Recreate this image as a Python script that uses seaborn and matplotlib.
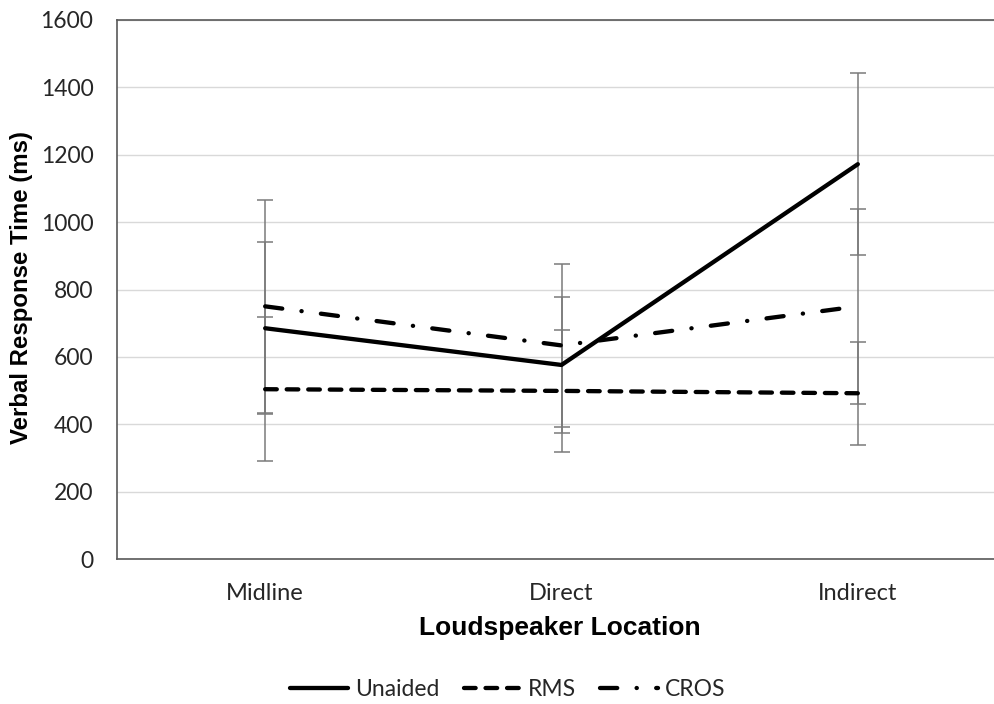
import matplotlib
matplotlib.use("Agg")
import matplotlib.pyplot as plt
import seaborn as sns
import pandas as pd

# Mean verbal response time (ms) and standard deviation per listening condition
categories = ["Midline", "Direct", "Indirect"]
series_names = ["Unaided", "RMS", "CROS"]
unaided_mean = [685, 576, 1172]
unaided_sd = [256, 203, 270]
rms_mean = [504, 499, 492]
rms_sd = [213, 180, 153]
cros_mean = [750, 634, 750]
cros_sd = [316, 241, 290]
y_ticks = [0, 200, 400, 600, 800, 1000, 1200, 1400, 1600]

sns.set_theme(style="white")
plt.rcParams["font.family"] = ["Lato", "DejaVu Sans"]

rows = []
for name, means, sds in zip(series_names,
                            [unaided_mean, rms_mean, cros_mean],
                            [unaided_sd, rms_sd, cros_sd]):
    for pos, (cat, m, s) in enumerate(zip(categories, means, sds)):
        rows.append({"Location": cat, "pos": pos, "Condition": name, "ms": m, "sd": s})
df = pd.DataFrame(rows)

W, H = 995, 704
fig = plt.figure(figsize=(W / 100, H / 100), dpi=100)
left, right, top, bottom = 117, 1006, 20, 559
ax = fig.add_axes([left / W, (H - bottom) / H, (right - left) / W, (bottom - top) / H])

LW = 3.1
line_dashes = {
    "Unaided": "",
    "RMS": (2.7, 2.3),
    "CROS": (4.0, 4.5, 0.05, 4.5),
}
sns.lineplot(
    data=df, x="pos", y="ms", hue="Condition", style="Condition",
    hue_order=series_names, style_order=series_names,
    palette={n: "black" for n in series_names},
    dashes=line_dashes, linewidth=LW, legend=False, ax=ax,
    dash_capstyle="round", solid_capstyle="round", zorder=3,
)
line_handles = list(ax.lines[:3])

# Standard deviation whiskers
ax.errorbar(df["pos"], df["ms"], yerr=df["sd"], fmt="none",
            ecolor="#7a7a7a", elinewidth=1.1, capsize=5.5, capthick=1.1, zorder=2)

ax.set_xlim(-0.5, 2.5)
ax.set_ylim(0, 1600)
ax.set_xticks(range(len(categories)))
ax.set_xticklabels(categories)
ax.set_yticks(y_ticks)
ax.set_yticklabels([str(v) for v in y_ticks])
ax.tick_params(axis="both", length=0, colors="#262626")
ax.tick_params(axis="y", pad=17, labelsize=16.5)
ax.tick_params(axis="x", pad=17, labelsize=17)

ax.yaxis.grid(True, color="#d9d9d9", linewidth=1.0)
ax.xaxis.grid(False)
ax.set_axisbelow(True)
for side in ["left", "bottom", "top"]:
    ax.spines[side].set_visible(True)
    ax.spines[side].set_color("#595959")
    ax.spines[side].set_linewidth(1.2)
ax.spines["right"].set_visible(False)

ax.set_xlabel("Loudspeaker Location", fontfamily=["Liberation Sans", "DejaVu Sans"],
              fontweight="bold", fontsize=19, color="black")
ax.xaxis.set_label_coords((560 - left) / (right - left), (bottom - 628) / (bottom - top))
ax.xaxis.label.set_verticalalignment("center")
ax.set_ylabel("Verbal Response Time (ms)", fontfamily=["Liberation Sans", "DejaVu Sans"],
              fontweight="bold", fontsize=17.3, color="black")
ax.yaxis.set_label_coords((22 - left) / (right - left), (bottom - 288) / (bottom - top))
ax.yaxis.label.set_verticalalignment("center")

fig.legend(handles=line_handles, labels=series_names, loc="center",
           bbox_to_anchor=(508 / W, (H - 690) / H), ncol=3, frameon=False,
           fontsize=16.5, handlelength=2.52, handletextpad=0.3, columnspacing=1.05)

fig.savefig("out.png", dpi=100, facecolor="white")
